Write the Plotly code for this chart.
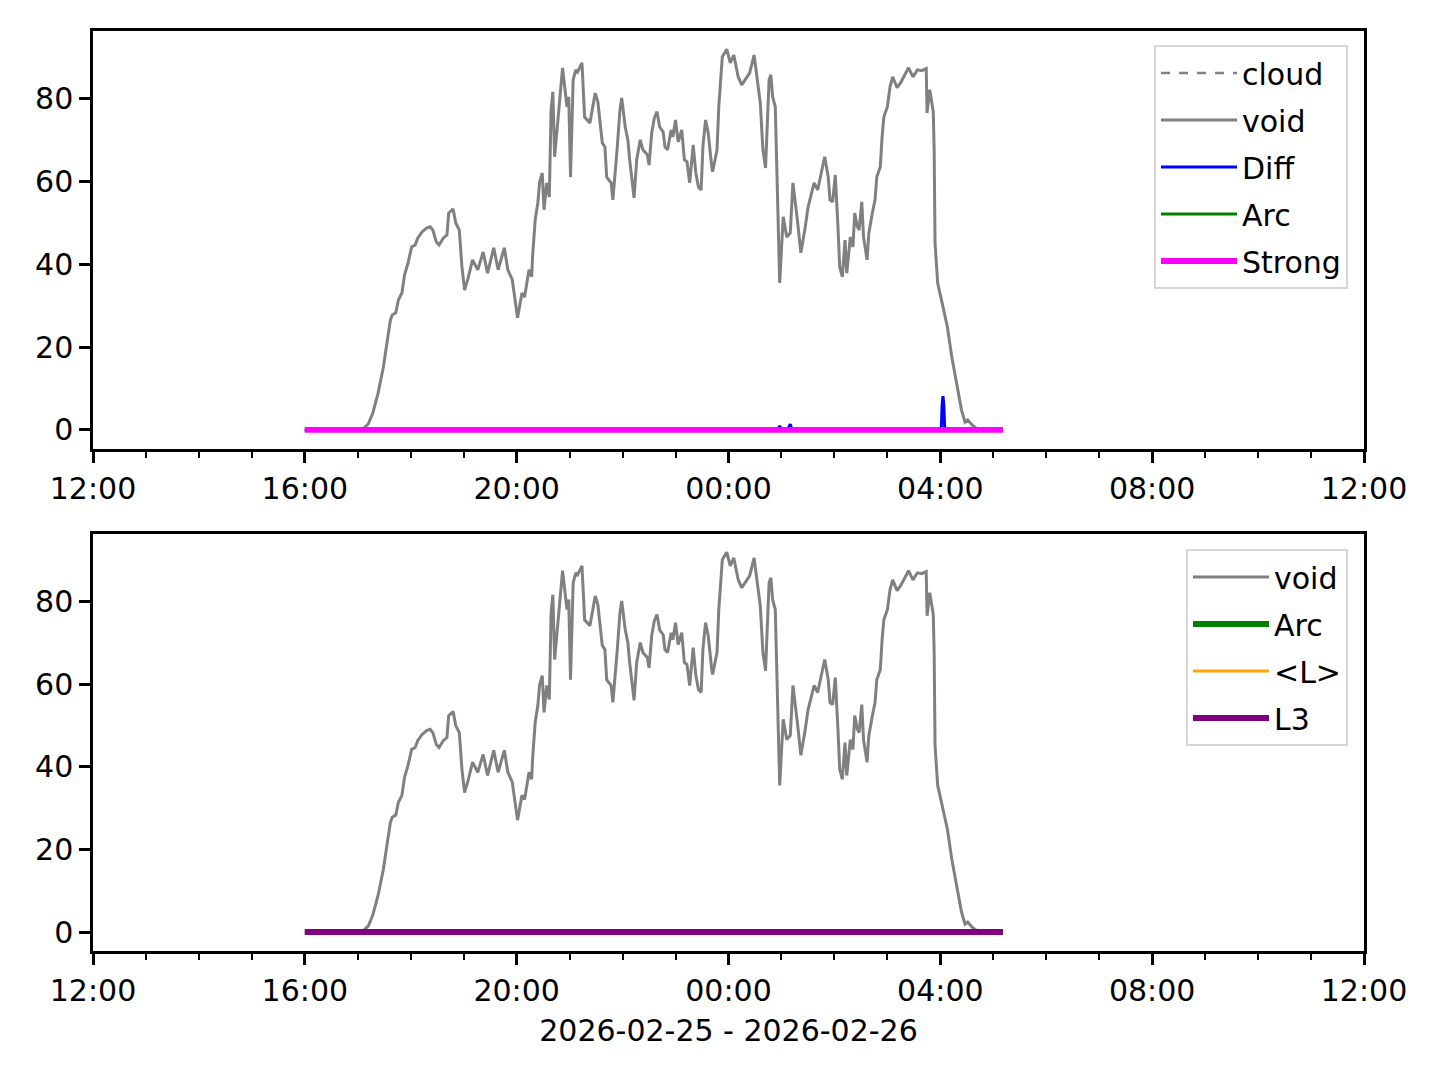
import plotly.graph_objects as go

# ---------------- data ----------------
void_times = [
    "16:00", "17:06", "17:12", "17:17", "17:23", "17:29", "17:33", "17:37", "17:39", "17:43",
    "17:46", "17:50", "17:53", "17:57", "18:01", "18:05", "18:08", "18:13", "18:18", "18:22",
    "18:25", "18:29", "18:32", "18:37", "18:41", "18:43", "18:48", "18:51", "18:55", "18:58",
    "19:01", "19:05", "19:10", "19:16", "19:22", "19:27", "19:34", "19:39", "19:46", "19:50",
    "19:55", "19:58", "20:01", "20:06", "20:09", "20:14", "20:17", "20:18", "20:21", "20:24",
    "20:26", "20:29", "20:31", "20:34", "20:37", "20:39", "20:41", "20:43", "20:47", "20:49",
    "20:52", "20:57", "20:59", "21:01", "21:04", "21:07", "21:09", "21:14", "21:17", "21:23",
    "21:29", "21:32", "21:37", "21:40", "21:42", "21:47", "21:49", "21:54", "21:57", "21:59",
    "22:03", "22:06", "22:08", "22:13", "22:16", "22:20", "22:23", "22:28", "22:30", "22:33",
    "22:36", "22:39", "22:42", "22:46", "22:48", "22:51", "22:55", "22:57", "23:00", "23:03",
    "23:07", "23:10", "23:13", "23:16", "23:20", "23:23", "23:26", "23:29", "23:31", "23:34",
    "23:37", "23:41", "23:42", "23:47", "23:49", "23:53", "23:58", "00:02", "00:06", "00:11",
    "00:15", "00:21", "00:24", "00:29", "00:33", "00:36", "00:39", "00:42", "00:44", "00:46",
    "00:48", "00:50", "00:53", "00:55", "00:58", "01:02", "01:06", "01:10", "01:13", "01:18",
    "01:22", "01:27", "01:30", "01:35", "01:37", "01:41", "01:46", "01:49", "01:53", "01:55",
    "01:58", "02:01", "02:04", "02:06", "02:09", "02:12", "02:14", "02:18", "02:21", "02:23",
    "02:26", "02:28", "02:31", "02:33", "02:37", "02:39", "02:43", "02:46", "02:48", "02:52",
    "02:54", "02:56", "03:00", "03:03", "03:06", "03:11", "03:15", "03:20", "03:24", "03:29",
    "03:34", "03:39", "03:44", "03:45", "03:48", "03:52", "03:53", "03:54", "03:57", "04:02",
    "04:08", "04:13", "04:19", "04:24", "04:28", "04:31", "04:36", "04:39", "04:43", "05:11",
]
void_values = [
    0.0, 0.3, 1.5, 4.1, 8.9, 15.2, 21.0, 26.6, 27.8, 28.3,
    31.4, 33.1, 37.5, 40.4, 44.2, 44.7, 46.4, 47.9, 48.8, 49.1,
    48.3, 45.4, 44.7, 46.4, 47.1, 52.4, 53.4, 50.0, 48.3, 39.4,
    33.8, 36.7, 41.1, 38.7, 43.0, 37.9, 44.0, 38.7, 44.0, 38.7,
    36.3, 32.1, 27.1, 33.1, 32.1, 38.7, 37.0, 41.8, 50.8, 54.9,
    59.9, 62.1, 53.2, 59.7, 56.3, 77.3, 81.7, 66.0, 75.6, 82.2,
    87.5, 78.1, 80.5, 61.1, 84.6, 87.0, 86.5, 88.7, 75.6, 74.2,
    81.4, 79.3, 69.4, 68.4, 61.1, 59.7, 55.6, 68.4, 77.3, 80.2,
    73.2, 70.1, 65.3, 56.1, 65.3, 70.1, 67.7, 66.5, 64.0, 71.8,
    75.4, 76.9, 73.2, 72.0, 68.4, 67.7, 72.5, 70.8, 74.9, 69.6,
    72.5, 65.3, 64.8, 59.7, 68.9, 62.1, 58.7, 58.0, 68.4, 74.9,
    71.8, 63.6, 62.4, 67.7, 78.1, 90.2, 92.0, 88.7, 90.6, 85.3,
    83.4, 85.3, 86.3, 90.6, 84.6, 79.0, 67.7, 63.3, 74.2, 84.6,
    85.8, 80.5, 78.1, 61.1, 35.5, 51.5, 46.6, 47.6, 59.7, 50.8,
    42.8, 49.1, 53.7, 58.0, 59.7, 58.0, 63.6, 66.0, 61.1, 55.6,
    55.1, 61.6, 49.1, 39.4, 37.0, 45.9, 37.9, 46.6, 44.2, 52.4,
    49.1, 48.3, 55.1, 46.6, 41.1, 47.6, 52.4, 55.6, 61.1, 63.6,
    70.8, 75.6, 78.1, 82.9, 85.3, 82.7, 83.9, 85.8, 87.5, 85.3,
    87.0, 86.8, 87.3, 76.6, 82.2, 76.9, 67.7, 45.2, 35.5, 30.7,
    24.9, 17.6, 10.4, 4.8, 1.9, 2.4, 1.2, 0.7, 0.0, 0.0,
]

diff_times = ["16:00", "00:56", "00:58", "01:00", "01:07", "01:09", "01:10", "01:12",
              "04:01", "04:02", "04:03", "04:04", "04:05", "05:11"]
diff_values = [0.0, 0.0, 1.0, 0.0, 0.0, 1.2, 1.4, 0.0,
               0.0, 6.0, 8.2, 6.0, 0.0, 0.0]

flat_times = ["16:00", "05:11"]
cloud_values = [0.0, 0.0]
arc_values = [0.0, 0.0]
strong_values = [0.0, 0.0]
lavg_values = [0.0, 0.0]
l3_values = [0.0, 0.0]

x_range = ["2026-02-25 12:00", "2026-02-26 12:00"]
x_title = "2026-02-25 - 2026-02-26"


def to_dt(hhmm):
    day = "2026-02-25" if int(hhmm[:2]) >= 12 else "2026-02-26"
    return f"{day} {hhmm}"


vt = [to_dt(t) for t in void_times]
dt_ = [to_dt(t) for t in diff_times]
ft = [to_dt(t) for t in flat_times]

FONT = "DejaVu Sans"
FS = 30

fig = go.Figure()

# ---- top panel ----
fig.add_trace(go.Scatter(x=ft, y=cloud_values, name="cloud", mode="lines",
                         line=dict(color="gray", width=2.4, dash="dash"),
                         xaxis="x", yaxis="y", legend="legend", legendgroup="a1"))
fig.add_trace(go.Scatter(x=vt, y=void_values, name="void", mode="lines",
                         line=dict(color="gray", width=3),
                         xaxis="x", yaxis="y", legend="legend", legendgroup="a2"))
fig.add_trace(go.Scatter(x=dt_, y=diff_values, name="Diff", mode="lines",
                         line=dict(color="blue", width=3),
                         xaxis="x", yaxis="y", legend="legend", legendgroup="a3"))
fig.add_trace(go.Scatter(x=ft, y=arc_values, name="Arc", mode="lines",
                         line=dict(color="green", width=3),
                         xaxis="x", yaxis="y", legend="legend", legendgroup="a4"))
fig.add_trace(go.Scatter(x=ft, y=strong_values, name="Strong", mode="lines",
                         line=dict(color="#ff00ff", width=5.8),
                         xaxis="x", yaxis="y", legend="legend", legendgroup="a5"))

# ---- bottom panel ----
fig.add_trace(go.Scatter(x=vt, y=void_values, name="void", mode="lines",
                         line=dict(color="gray", width=3),
                         xaxis="x2", yaxis="y2", legend="legend2", legendgroup="b1"))
fig.add_trace(go.Scatter(x=ft, y=arc_values, name="Arc", mode="lines",
                         line=dict(color="green", width=5.8),
                         xaxis="x2", yaxis="y2", legend="legend2", legendgroup="b2"))
fig.add_trace(go.Scatter(x=ft, y=lavg_values, name="<L>", mode="lines",
                         line=dict(color="orange", width=3),
                         xaxis="x2", yaxis="y2", legend="legend2", legendgroup="b3"))
fig.add_trace(go.Scatter(x=ft, y=l3_values, name="L3", mode="lines",
                         line=dict(color="purple", width=5.8),
                         xaxis="x2", yaxis="y2", legend="legend2", legendgroup="b4"))

W, H = 1440, 1080
xdom = [93 / W, 1364 / W]
top_dom = [1 - 449 / H, 1 - 31 / H]
bot_dom = [1 - 951 / H, 1 - 534 / H]

common_x = dict(
    type="date", range=x_range, tickformat="%H:%M", dtick=4 * 3600000,
    tick0="2026-02-25 12:00", ticks="outside", ticklen=11, tickwidth=2.5,
    tickcolor="black", showline=True, linecolor="black", linewidth=2.5,
    mirror=True, showgrid=False, zeroline=False, automargin=False,
    tickfont=dict(family=FONT, size=FS, color="black"),
    minor=dict(dtick=3600000, tick0="2026-02-25 12:00", ticks="outside",
               ticklen=6, tickwidth=1.9, tickcolor="black", showgrid=False),
)
common_y = dict(
    range=[-4.6, 96.4], dtick=20, tick0=0, ticks="outside", ticklen=11,
    tickwidth=2.5, tickcolor="black", showline=True, linecolor="black",
    linewidth=2.5, mirror=True, showgrid=False, zeroline=False, automargin=False,
    tickfont=dict(family=FONT, size=FS, color="black"),
)

legend_common = dict(
    xanchor="right", yanchor="top", bgcolor="white", bordercolor="#d6d6d6",
    borderwidth=2, font=dict(family=FONT, size=FS, color="black"),
    tracegroupgap=5, itemwidth=76,
)

fig.update_layout(
    width=W, height=H, margin=dict(l=0, r=0, t=0, b=0, autoexpand=False),
    paper_bgcolor="white", plot_bgcolor="white",
    font=dict(family=FONT, size=FS, color="black"),
    xaxis=dict(domain=xdom, anchor="y", **common_x),
    yaxis=dict(domain=top_dom, anchor="x", **common_y),
    xaxis2=dict(domain=xdom, anchor="y2",
                title=dict(text=x_title, font=dict(family=FONT, size=FS), standoff=14),
                **common_x),
    yaxis2=dict(domain=bot_dom, anchor="x2", **common_y),
    legend=dict(x=1348 / W, y=1 - 45 / H, **legend_common),
    legend2=dict(x=1348 / W, y=1 - 549 / H, **legend_common),
    showlegend=True,
)

fig.write_html("out.html", config={"displayModeBar": False},
               post_script="document.body.style.margin='0';")
